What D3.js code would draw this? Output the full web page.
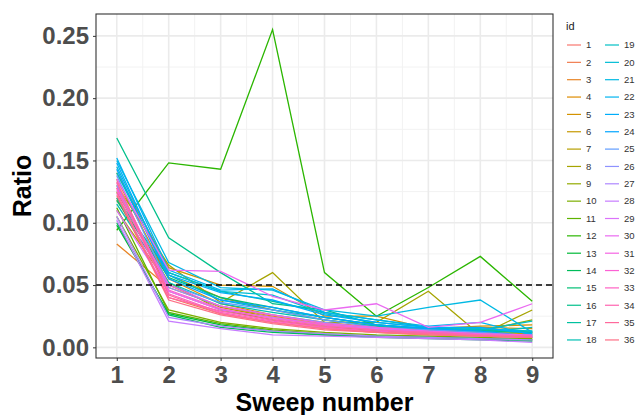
<!DOCTYPE html>
<html lang="en">
<head>
<meta charset="UTF-8">
<title>Ratio by sweep number</title>
<script src="https://d3js.org/d3.v7.min.js"></script>
<style>
    body { margin: 0; background: #fff; }
    svg { font-family: "Liberation Sans", Arial, sans-serif; }
    .tick text { font-weight: bold; fill: #4d4d4d; font-size: 24px; }
    .tick line { stroke: #333; }
    .domain { display: none; }
</style>
</head>
<body>
<div id="chart"></div>
<script>
    // sweep numbers on the x axis
    const sweeps = [1, 2, 3, 4, 5, 6, 7, 8, 9];
    const ids = d3.range(1, 37);
    const yTicks = [0, 0.05, 0.10, 0.15, 0.20, 0.25];
    const threshold = 0.05;

    // ratio per id (rows) for sweeps 1..9
    const ratios = [
        [0.128, 0.045, 0.030, 0.022, 0.016, 0.013, 0.011, 0.010, 0.008],
        [0.120, 0.040, 0.027, 0.020, 0.015, 0.012, 0.010, 0.009, 0.008],
        [0.083, 0.048, 0.033, 0.025, 0.019, 0.015, 0.014, 0.013, 0.012],
        [0.135, 0.055, 0.035, 0.026, 0.020, 0.016, 0.015, 0.016, 0.015],
        [0.140, 0.064, 0.050, 0.049, 0.025, 0.025, 0.015, 0.017, 0.018],
        [0.118, 0.058, 0.040, 0.030, 0.022, 0.017, 0.013, 0.012, 0.011],
        [0.110, 0.050, 0.032, 0.024, 0.018, 0.014, 0.012, 0.011, 0.010],
        [0.130, 0.066, 0.036, 0.060, 0.020, 0.020, 0.045, 0.010, 0.030],
        [0.125, 0.052, 0.030, 0.022, 0.017, 0.013, 0.011, 0.013, 0.022],
        [0.105, 0.030, 0.020, 0.015, 0.012, 0.010, 0.009, 0.008, 0.007],
        [0.112, 0.028, 0.019, 0.014, 0.011, 0.009, 0.008, 0.007, 0.006],
        [0.094, 0.148, 0.143, 0.255, 0.060, 0.025, 0.048, 0.073, 0.037],
        [0.098, 0.027, 0.018, 0.013, 0.010, 0.009, 0.008, 0.007, 0.006],
        [0.100, 0.026, 0.016, 0.012, 0.010, 0.008, 0.007, 0.006, 0.005],
        [0.118, 0.056, 0.040, 0.032, 0.024, 0.018, 0.015, 0.013, 0.012],
        [0.168, 0.088, 0.060, 0.035, 0.030, 0.018, 0.015, 0.014, 0.013],
        [0.120, 0.060, 0.045, 0.037, 0.028, 0.022, 0.016, 0.014, 0.012],
        [0.115, 0.052, 0.035, 0.028, 0.022, 0.017, 0.014, 0.012, 0.016],
        [0.140, 0.058, 0.038, 0.030, 0.024, 0.018, 0.015, 0.014, 0.021],
        [0.145, 0.060, 0.045, 0.042, 0.027, 0.020, 0.016, 0.015, 0.013],
        [0.150, 0.068, 0.048, 0.046, 0.030, 0.025, 0.032, 0.038, 0.012],
        [0.152, 0.062, 0.046, 0.047, 0.028, 0.022, 0.017, 0.020, 0.010],
        [0.148, 0.058, 0.044, 0.038, 0.026, 0.020, 0.016, 0.016, 0.011],
        [0.143, 0.055, 0.038, 0.032, 0.024, 0.018, 0.015, 0.013, 0.009],
        [0.138, 0.050, 0.036, 0.030, 0.022, 0.016, 0.014, 0.012, 0.009],
        [0.130, 0.048, 0.033, 0.026, 0.020, 0.015, 0.013, 0.011, 0.008],
        [0.105, 0.024, 0.017, 0.013, 0.011, 0.009, 0.008, 0.007, 0.006],
        [0.102, 0.021, 0.015, 0.010, 0.009, 0.008, 0.007, 0.006, 0.004],
        [0.110, 0.045, 0.030, 0.024, 0.018, 0.015, 0.012, 0.010, 0.009],
        [0.135, 0.062, 0.061, 0.041, 0.030, 0.035, 0.016, 0.020, 0.035],
        [0.126, 0.050, 0.033, 0.026, 0.019, 0.016, 0.013, 0.011, 0.010],
        [0.132, 0.046, 0.031, 0.023, 0.018, 0.014, 0.012, 0.010, 0.009],
        [0.128, 0.043, 0.028, 0.021, 0.016, 0.013, 0.011, 0.009, 0.008],
        [0.124, 0.040, 0.029, 0.022, 0.017, 0.014, 0.012, 0.010, 0.009],
        [0.133, 0.042, 0.027, 0.020, 0.015, 0.012, 0.011, 0.009, 0.008],
        [0.122, 0.038, 0.026, 0.019, 0.014, 0.012, 0.010, 0.009, 0.008]
    ];

    // polar LUV -> hex, same as R's hcl() used by ggplot's hue palette
    function hclLuv(h, c, l) {
        const Xn = 95.047, Yn = 100, Zn = 108.883;
        const den = Xn + 15 * Yn + 3 * Zn;
        const un = 4 * Xn / den, vn = 9 * Yn / den;
        const Y = Yn * Math.pow((l + 16) / 116, 3);
        const hr = h * Math.PI / 180;
        const up = c * Math.cos(hr) / (13 * l) + un;
        const vp = c * Math.sin(hr) / (13 * l) + vn;
        const X = Y * 9 * up / (4 * vp);
        const Z = Y * (12 - 3 * up - 20 * vp) / (4 * vp);
        const x = X / 100, y = Y / 100, z = Z / 100;
        const lin = [
            3.240479 * x - 1.537150 * y - 0.498535 * z,
            -0.969256 * x + 1.875992 * y + 0.041556 * z,
            0.055648 * x - 0.204043 * y + 1.057311 * z
        ];
        const rgb = lin.map(v => {
            const g = v <= 0.0031308 ? 12.92 * v : 1.055 * Math.pow(v, 1 / 2.4) - 0.055;
            return Math.round(Math.max(0, Math.min(1, g)) * 255);
        });
        return d3.rgb(rgb[0], rgb[1], rgb[2]).formatHex();
    }

    const colors = ids.map((d, i) => hclLuv(15 + i * 360 / ids.length, 100, 65));
    const color = d3.scaleOrdinal().domain(ids).range(colors);

    const width = 636, height = 415;
    const panel = { left: 96, right: 553, top: 14, bottom: 358 };

    const svg = d3.select("#chart").append("svg")
        .attr("width", width)
        .attr("height", height);

    const x = d3.scaleLinear()
        .domain([0.6, 9.4])
        .range([panel.left, panel.right]);

    const allVals = ratios.flat();
    const yMin = d3.min(allVals), yMax = d3.max(allVals);
    const pad = (yMax - yMin) * 0.05;
    const y = d3.scaleLinear()
        .domain([yMin - pad, yMax + pad])
        .range([panel.bottom, panel.top]);

    // gridlines
    const grid = svg.append("g");
    const xMinor = d3.range(1.5, 9, 1);
    const yMinor = [0.025, 0.075, 0.125, 0.175, 0.225];
    grid.selectAll(".xminor").data(xMinor).enter().append("line")
        .attr("x1", d => x(d)).attr("x2", d => x(d))
        .attr("y1", panel.top).attr("y2", panel.bottom)
        .attr("stroke", "#f2f2f2").attr("stroke-width", 1);
    grid.selectAll(".yminor").data(yMinor).enter().append("line")
        .attr("x1", panel.left).attr("x2", panel.right)
        .attr("y1", d => y(d)).attr("y2", d => y(d))
        .attr("stroke", "#f2f2f2").attr("stroke-width", 1);
    grid.selectAll(".xmajor").data(sweeps).enter().append("line")
        .attr("x1", d => x(d)).attr("x2", d => x(d))
        .attr("y1", panel.top).attr("y2", panel.bottom)
        .attr("stroke", "#ebebeb").attr("stroke-width", 1.6);
    grid.selectAll(".ymajor").data(yTicks).enter().append("line")
        .attr("x1", panel.left).attr("x2", panel.right)
        .attr("y1", d => y(d)).attr("y2", d => y(d))
        .attr("stroke", "#ebebeb").attr("stroke-width", 1.6);

    // series lines
    const line = d3.line()
        .x((d, i) => x(sweeps[i]))
        .y(d => y(d));

    svg.append("g").selectAll("path")
        .data(ratios)
        .enter().append("path")
        .attr("d", line)
        .attr("fill", "none")
        .attr("stroke", (d, i) => color(ids[i]))
        .attr("stroke-width", 1.3);

    // threshold line
    svg.append("line")
        .attr("x1", panel.left).attr("x2", panel.right)
        .attr("y1", y(threshold)).attr("y2", y(threshold))
        .attr("stroke", "#000")
        .attr("stroke-width", 1.4)
        .attr("stroke-dasharray", "6,4");

    // panel border
    svg.append("rect")
        .attr("x", panel.left).attr("y", panel.top)
        .attr("width", panel.right - panel.left)
        .attr("height", panel.bottom - panel.top)
        .attr("fill", "none")
        .attr("stroke", "#333")
        .attr("stroke-width", 1.1);

    // axes
    svg.append("g")
        .attr("transform", `translate(0,${panel.bottom})`)
        .call(d3.axisBottom(x).tickValues(sweeps).tickFormat(d3.format("d")).tickSize(3).tickPadding(5));

    svg.append("g")
        .attr("transform", `translate(${panel.left},0)`)
        .call(d3.axisLeft(y).tickValues(yTicks).tickFormat(d3.format(".2f")).tickSize(3).tickPadding(4));

    // axis titles
    svg.append("text")
        .attr("x", (panel.left + panel.right) / 2)
        .attr("y", 411)
        .attr("text-anchor", "middle")
        .attr("font-size", 25)
        .attr("font-weight", "bold")
        .text("Sweep number");

    svg.append("text")
        .attr("transform", `translate(31,${(panel.top + panel.bottom) / 2}) rotate(-90)`)
        .attr("text-anchor", "middle")
        .attr("font-size", 25)
        .attr("font-weight", "bold")
        .text("Ratio");

    // legend
    const legend = svg.append("g");
    legend.append("text")
        .attr("x", 566).attr("y", 30)
        .attr("font-size", 11)
        .attr("fill", "#1a1a1a")
        .text("id");

    const perCol = 18;
    const item = legend.selectAll(".item")
        .data(ids)
        .enter().append("g")
        .attr("transform", (d, i) => {
            const col = Math.floor(i / perCol), row = i % perCol;
            return `translate(${567 + col * 38},${45 + row * 17.35})`;
        });
    item.append("line")
        .attr("x1", 0).attr("x2", 14)
        .attr("stroke", d => color(d))
        .attr("stroke-width", 1.2);
    item.append("text")
        .attr("x", 19).attr("dy", "0.35em")
        .attr("font-size", 9.5)
        .attr("fill", "#333")
        .text(d => d);
</script>
</body>
</html>
